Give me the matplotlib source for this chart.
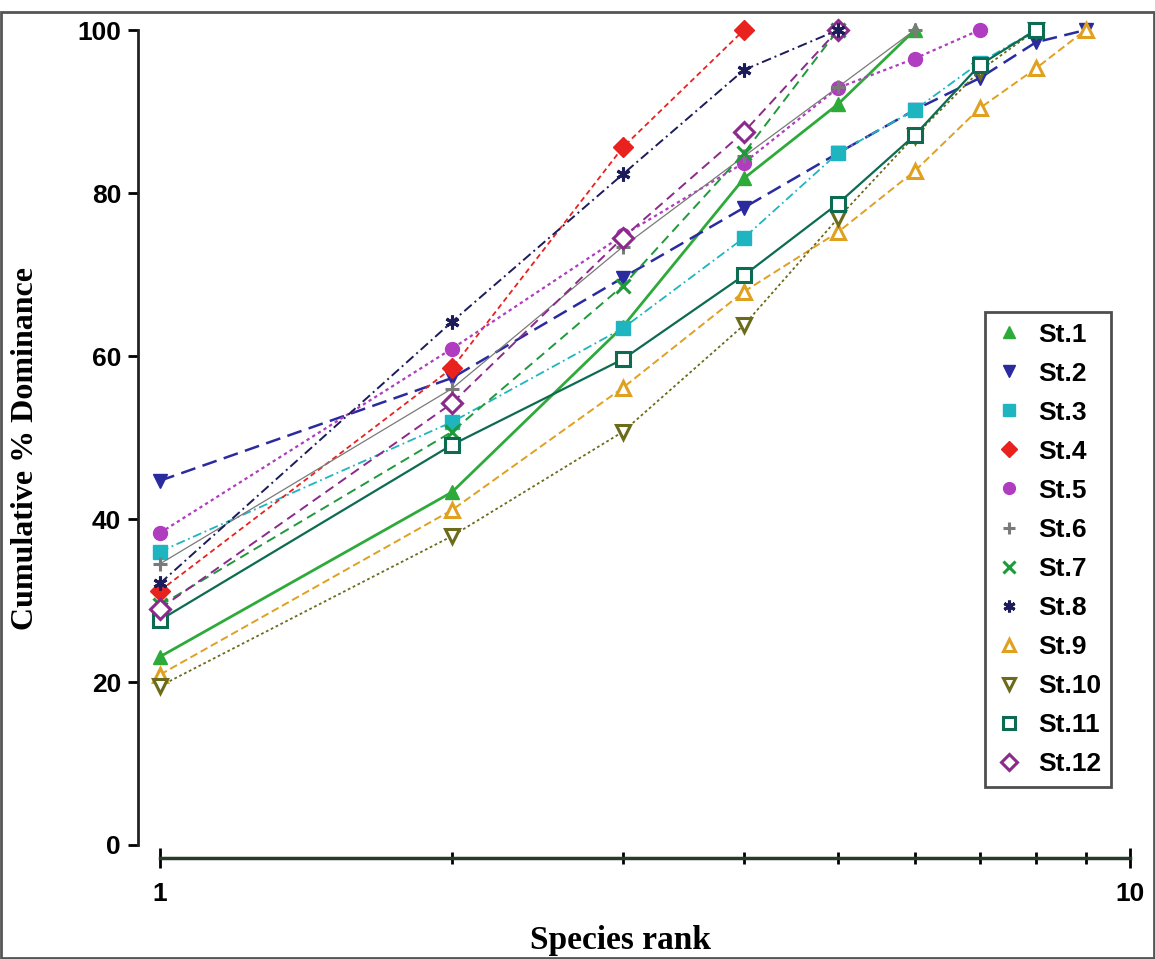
import matplotlib.pyplot as plt
from matplotlib.patches import Rectangle
from matplotlib.ticker import FixedLocator, NullFormatter

stations = ["St.1", "St.2", "St.3", "St.4", "St.5", "St.6",
            "St.7", "St.8", "St.9", "St.10", "St.11", "St.12"]

st1 = [23.1, 43.3, 63.6, 81.8, 90.9, 100]
st2 = [44.7, 57.3, 69.6, 78.2, 84.9, 90.2, 94.1, 98.5, 100]
st3 = [36.0, 51.9, 63.4, 74.5, 84.9, 90.2, 96.0, 100]
st4 = [31.2, 58.5, 85.6, 100]
st5 = [38.3, 60.9, 74.8, 83.7, 92.9, 96.5, 100]
st6 = [34.5, 56.0, 73.4, 84.5, 93.0, 100]
st7 = [29.4, 50.7, 68.6, 84.9, 100]
st8 = [32.1, 64.2, 82.3, 95.1, 100]
st9 = [20.9, 41.1, 56.1, 67.9, 75.2, 82.7, 90.4, 95.3, 100]
st10 = [19.5, 37.9, 50.7, 63.8, 76.9, 87.0, 95.0, 100]
st11 = [27.6, 49.1, 59.6, 69.9, 78.7, 87.1, 95.7, 100]
st12 = [29.0, 54.2, 74.5, 87.5, 100]

series = [st1, st2, st3, st4, st5, st6, st7, st8, st9, st10, st11, st12]

colors = ["#2eaa3a", "#2b2ba0", "#1fb5c0", "#e8231f", "#b03cc0", "#7a7a7a",
          "#1e9a3a", "#1c1c5a", "#e0a020", "#6b6b1a", "#0c6b50", "#8b2a8b"]
markers = ["^", "v", "s", "D", "o", "+", "x", (6, 2, 0), "^", "v", "s", "D"]
filled = [True, True, True, True, True, True, True, True, False, False, False, False]
styles = ["-", (0, (6, 3)), (0, (5, 2, 1, 2)), (0, (3, 2)), (0, (1.5, 1.5)), "-",
          (0, (5, 3)), (0, (5, 2, 1, 2)), (0, (4, 2)), (0, (1.5, 1.5)), "-", (0, (5, 3))]
widths = [2.0, 1.8, 1.3, 1.3, 1.6, 0.9, 1.4, 1.4, 1.4, 1.3, 1.6, 1.4]

fig = plt.figure(figsize=(11.55, 9.59), dpi=100)
ax = fig.add_axes([160 / 1155, 1 - 845 / 959, 970 / 1155, 815 / 959])

for i, (name, vals, c, m, f, ls, lw) in enumerate(
        zip(stations, series, colors, markers, filled, styles, widths)):
    ranks = list(range(1, len(vals) + 1))
    ax.plot(ranks, vals, linestyle=ls, color=c, linewidth=lw,
            marker=m, markersize=10,
            markerfacecolor=c if f else "white", markeredgecolor=c,
            markeredgewidth=2.2 if not f or m in ("+", "x", (6, 2, 0)) else 1,
            label=name, clip_on=False, zorder=4 if name == "St.8" else 2 + i * 0.01)

ax.set_xscale("log")
ax.set_xlim(1, 10)
ax.set_ylim(0, 100)

for s in ["top", "right"]:
    ax.spines[s].set_visible(False)
ax.spines["left"].set_position(("outward", 16))
ax.spines["bottom"].set_position(("outward", 9.5))
ax.spines["left"].set_bounds(0, 100)
ax.spines["bottom"].set_bounds(1, 10)
ax.spines["left"].set_linewidth(2)
ax.spines["bottom"].set_linewidth(2.5)
ax.spines["left"].set_color("#222222")
ax.spines["bottom"].set_color("#2a3a2a")

ax.set_yticks([0, 20, 40, 60, 80, 100])
ax.xaxis.set_major_locator(FixedLocator([1, 10]))
ax.xaxis.set_minor_locator(FixedLocator([2, 3, 4, 5, 6, 7, 8, 9]))
ax.xaxis.set_major_formatter(plt.FixedFormatter(["1", "10"]))
ax.xaxis.set_minor_formatter(NullFormatter())
ax.tick_params(axis="y", direction="out", length=7, width=2, labelsize=19, pad=5)
ax.tick_params(axis="x", which="major", direction="inout", length=14, width=2,
               labelsize=19, pad=10)
ax.tick_params(axis="x", which="minor", direction="inout", length=9, width=2)
for lab in ax.get_xticklabels() + ax.get_yticklabels():
    lab.set_fontweight("bold")
    lab.set_family("Liberation Sans")

fig.text(620 / 1155, 3 / 959, "Species rank", fontsize=24, fontweight="bold",
         family="Liberation Serif", ha="center", va="bottom")
fig.text(26 / 1155, 1 - 448 / 959, "Cumulative % Dominance", fontsize=23,
         fontweight="bold", family="Liberation Serif", rotation=90,
         ha="center", va="center")

leg = ax.legend(loc="upper left", bbox_to_anchor=(825 / 970, 1 - 282 / 815),
                frameon=True, fancybox=False, edgecolor="#222222",
                prop={"family": "Liberation Sans", "weight": "bold", "size": 19},
                handlelength=1.0, handletextpad=0.6, labelspacing=0.57,
                borderpad=0.4, borderaxespad=0, markerscale=0.85)
leg.get_frame().set_linewidth(2)
for h in leg.legend_handles:
    h.set_linestyle("None")

fig.patches.append(Rectangle((0.001, 0.001), 0.998, 1 - 13 / 959, transform=fig.transFigure,
                             fill=False, edgecolor="#555555", linewidth=2))

fig.savefig("out.png", dpi=100)
